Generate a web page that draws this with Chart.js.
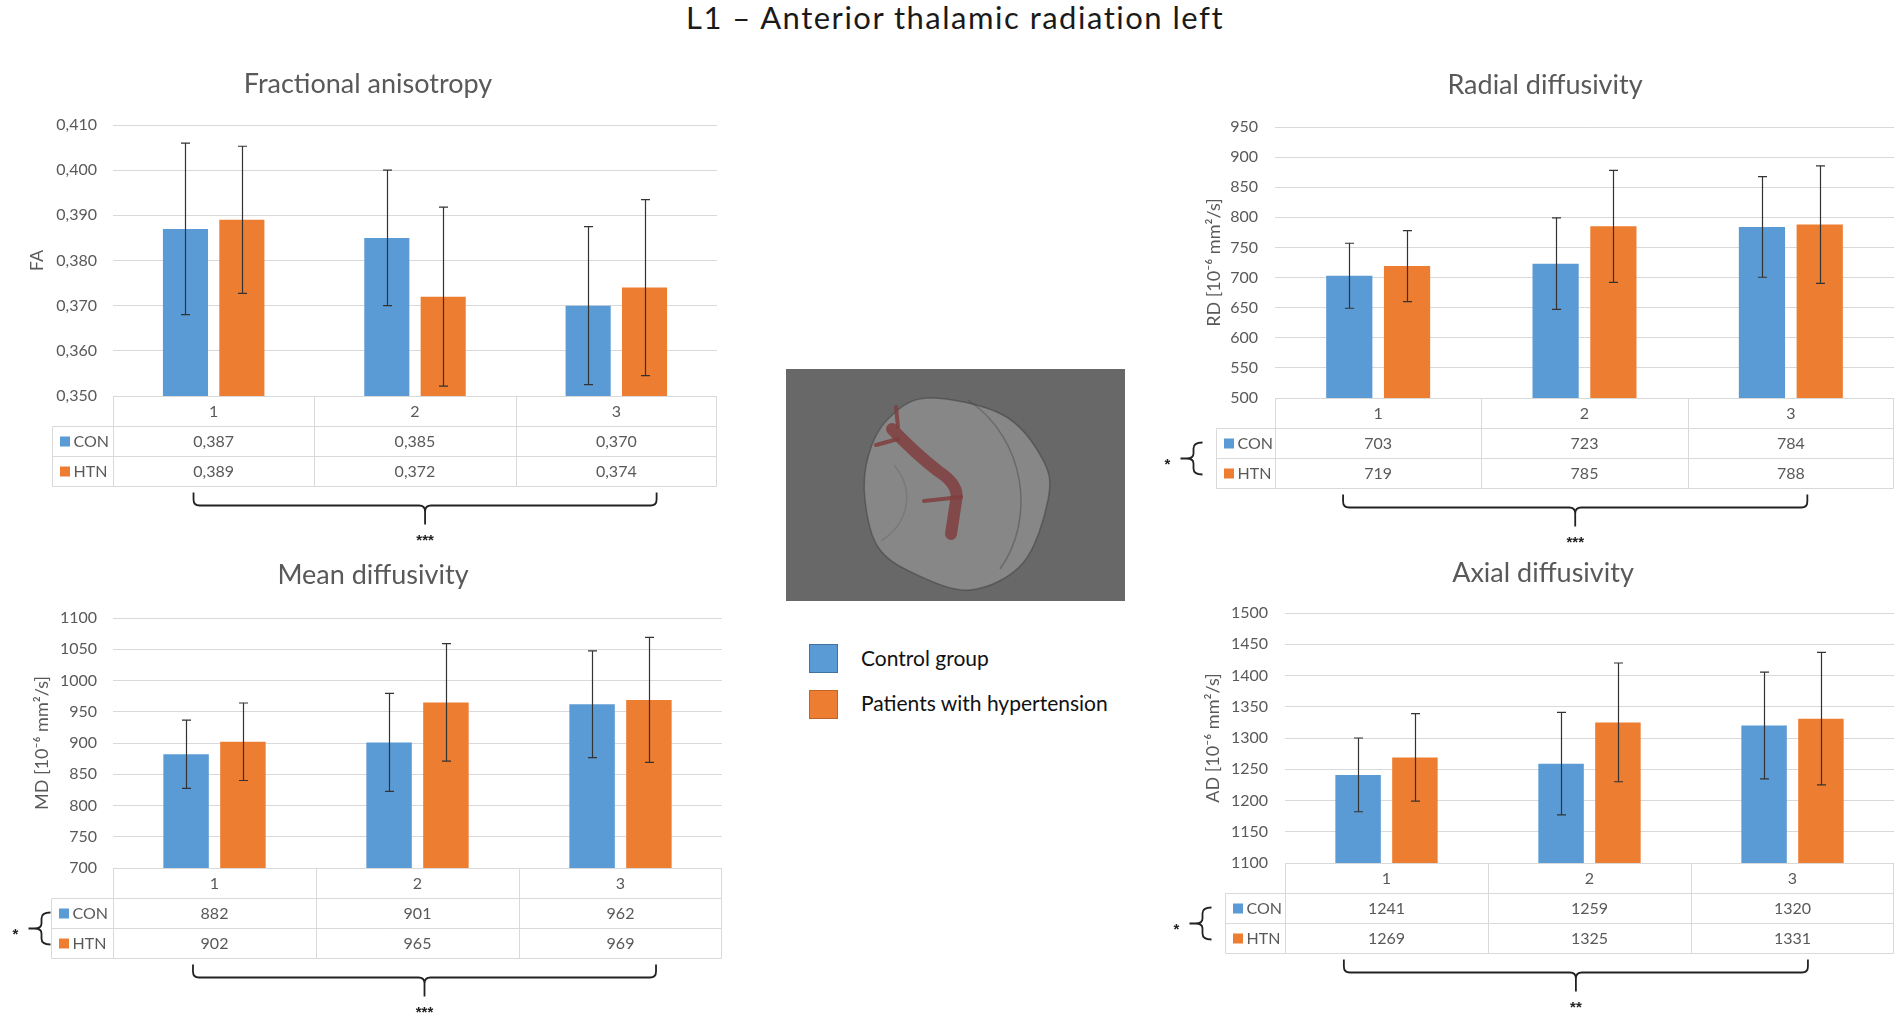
<!DOCTYPE html>
<html>
<head>
<meta charset="utf-8">
<title>L1 – Anterior thalamic radiation left</title>
<script src="https://cdn.jsdelivr.net/npm/chart.js@4.4.1/dist/chart.umd.min.js"></script>
<style>
  html, body { margin: 0; padding: 0; background: #fff; }
  #page { position: relative; width: 1900px; height: 1020px; overflow: hidden; font-family: Lato, sans-serif; }
  canvas { position: absolute; }
  #mainTitle { position: absolute; left: 0; top: 2px; width: 1910px; text-align: center; font-size: 31px; line-height: 31px; letter-spacing: 1.5px; color: #1a1a1a; }
  .key { position: absolute; left: 809px; width: 29px; height: 29px; box-sizing: border-box; }
  .keyText { position: absolute; left: 861px; font-size: 21px; line-height: 24px; color: #111; white-space: nowrap; }
</style>
</head>
<body>
<div id="page">
  <div id="mainTitle">L1 – Anterior thalamic radiation left</div>
  <canvas id="faChart" width="740" height="492" style="left:0;top:68px"></canvas>
  <canvas id="mdChart" width="745" height="461" style="left:0;top:559px"></canvas>
  <canvas id="rdChart" width="750" height="491" style="left:1150px;top:69px"></canvas>
  <canvas id="adChart" width="750" height="463" style="left:1150px;top:557px"></canvas>
  <canvas id="brain" width="339" height="232" style="left:786px;top:369px"></canvas>
  <div class="key" style="top:644px;background:#5B9BD5;border:1px solid #41719C"></div>
  <div class="keyText" style="top:646px">Control group</div>
  <div class="key" style="top:690px;background:#ED7D31;border:1px solid #C0642A"></div>
  <div class="keyText" style="top:691px">Patients with hypertension</div>
</div>
<script>
// Groups (table columns) and series
const groups = ['1', '2', '3'];
const seriesNames = ['CON', 'HTN'];
const seriesColors = ['#5B9BD5', '#ED7D31'];

// Fractional anisotropy
const faCon = [0.387, 0.385, 0.370];
const faHtn = [0.389, 0.372, 0.374];
const faConSd = [0.019, 0.015, 0.0175];
const faHtnSd = [0.0163, 0.0198, 0.0195];

// Mean diffusivity [10^-6 mm2/s]
const mdCon = [882, 901, 962];
const mdHtn = [902, 965, 969];
const mdConSd = [54.5, 78.5, 85.5];
const mdHtnSd = [62, 94, 100];

// Radial diffusivity
const rdCon = [703, 723, 784];
const rdHtn = [719, 785, 788];
const rdConSd = [54, 76, 83.5];
const rdHtnSd = [59, 93, 97.5];

// Axial diffusivity
const adCon = [1241, 1259, 1320];
const adHtn = [1269, 1325, 1331];
const adConSd = [59, 82, 85.5];
const adHtnSd = [70, 95, 106];

Chart.defaults.font.family = 'Lato, sans-serif';
Chart.defaults.color = '#595959';

const txt = '#595959';
const fmtFA = v => v.toFixed(3).replace('.', ',');
const fmtInt = v => String(Math.round(v));

// Error bars: mean +/- sd, through the y scale
const errorBars = {
  id: 'errorBars',
  afterDatasetsDraw(chart) {
    const { ctx, scales: { y } } = chart;
    ctx.save();
    ctx.strokeStyle = '#333';
    ctx.lineWidth = 1.2;
    chart.data.datasets.forEach((ds, i) => {
      chart.getDatasetMeta(i).data.forEach((bar, j) => {
        const top = y.getPixelForValue(ds.data[j] + ds.sd[j]);
        const bot = y.getPixelForValue(ds.data[j] - ds.sd[j]);
        const x = Math.round(bar.x) + 0.5;
        ctx.beginPath();
        ctx.moveTo(x, top); ctx.lineTo(x, bot);
        ctx.moveTo(x - 4.5, top); ctx.lineTo(x + 4.5, top);
        ctx.moveTo(x - 4.5, bot); ctx.lineTo(x + 4.5, bot);
        ctx.stroke();
      });
    });
    ctx.restore();
  }
};

// Excel-like data table under the plot, plus significance brackets
function dataTable(p) {
  return {
    id: 'dataTable',
    afterDraw(chart) {
      const { ctx, chartArea: a, scales: { x } } = chart;
      const rowH = 30;
      const keyL = Math.round(a.left - p.keyW) + 0.5;
      const L = Math.round(a.left) + 0.5, R = Math.round(a.right) - 0.5;
      const t0 = Math.round(a.bottom) + 0.5, t1 = t0 + rowH, t2 = t1 + rowH, t3 = t2 + rowH;
      const colW = x.getPixelForValue(1) - x.getPixelForValue(0);

      ctx.save();
      ctx.strokeStyle = '#d9d9d9';
      ctx.lineWidth = 1;
      ctx.beginPath();
      ctx.moveTo(L, t0); ctx.lineTo(R, t0);
      [t1, t2, t3].forEach(t => { ctx.moveTo(keyL, t); ctx.lineTo(R, t); });
      ctx.moveTo(keyL, t1); ctx.lineTo(keyL, t3);
      groups.forEach((g, i) => {
        const xl = Math.round(x.getPixelForValue(i) - colW / 2) + 0.5;
        ctx.moveTo(xl, t0); ctx.lineTo(xl, t3);
      });
      ctx.moveTo(R, t0); ctx.lineTo(R, t3);
      ctx.stroke();

      ctx.fillStyle = txt;
      ctx.font = '16px Lato';
      ctx.textAlign = 'center';
      ctx.textBaseline = 'middle';
      groups.forEach((g, i) => ctx.fillText(g, x.getPixelForValue(i), t0 + rowH / 2));
      chart.data.datasets.forEach((ds, k) => {
        const yc = t1 + rowH * k + rowH / 2;
        ds.data.forEach((v, i) => ctx.fillText(p.fmt(v), x.getPixelForValue(i), yc));
        ctx.fillStyle = seriesColors[k];
        ctx.fillRect(keyL + 7.5, yc - 5, 10, 10);
        ctx.fillStyle = txt;
        ctx.textAlign = 'left';
        ctx.fillText(seriesNames[k], keyL + 21, yc);
        ctx.textAlign = 'center';
      });

      // bracket across the three groups
      ctx.strokeStyle = '#222';
      ctx.lineWidth = 1.8;
      const bx1 = x.getPixelForValue(0) + p.bracket[0] * colW;
      const bx2 = x.getPixelForValue(groups.length - 1) + p.bracket[1] * colW;
      const bm = (bx1 + bx2) / 2;
      const yTop = t3 + 6, yH = t3 + 19, yTip = t3 + 38, r = 6;
      ctx.beginPath();
      ctx.moveTo(bx1, yTop); ctx.lineTo(bx1, yH - r);
      ctx.quadraticCurveTo(bx1, yH, bx1 + r, yH);
      ctx.lineTo(bm - r, yH);
      ctx.quadraticCurveTo(bm, yH, bm, yH + r);
      ctx.lineTo(bm, yTip);
      ctx.moveTo(bx2, yTop); ctx.lineTo(bx2, yH - r);
      ctx.quadraticCurveTo(bx2, yH, bx2 - r, yH);
      ctx.lineTo(bm + r, yH);
      ctx.quadraticCurveTo(bm, yH, bm, yH + r);
      ctx.stroke();
      ctx.fillStyle = '#222';
      ctx.font = 'bold 15px "Liberation Sans"';
      ctx.textBaseline = 'alphabetic';
      ctx.fillText(p.stars, bm, t3 + 58);

      // side brace between CON and HTN rows
      if (p.side) {
        const xr = keyL - p.braceGap, xs = xr - 9, xt = xr - 16, yc = t2, h = 16;
        ctx.beginPath();
        ctx.moveTo(xr, yc - h);
        ctx.quadraticCurveTo(xs, yc - h, xs, yc - h + 6);
        ctx.lineTo(xs, yc - 5);
        ctx.quadraticCurveTo(xs, yc, xt, yc);
        ctx.quadraticCurveTo(xs, yc, xs, yc + 5);
        ctx.lineTo(xs, yc + h - 6);
        ctx.quadraticCurveTo(xs, yc + h, xr, yc + h);
        ctx.moveTo(xt, yc); ctx.lineTo(xt - 6, yc);
        ctx.stroke();
        ctx.fillText(p.side, xt - 19, yc + 10);
      }
      ctx.restore();
    }
  };
}

function panel(id, p) {
  return new Chart(document.getElementById(id), {
    type: 'bar',
    data: {
      labels: groups,
      datasets: [
        { label: seriesNames[0], data: p.con, sd: p.conSd, backgroundColor: seriesColors[0], categoryPercentage: 0.56, barPercentage: 0.8 },
        { label: seriesNames[1], data: p.htn, sd: p.htnSd, backgroundColor: seriesColors[1], categoryPercentage: 0.56, barPercentage: 0.8 }
      ]
    },
    options: {
      responsive: false,
      animation: false,
      layout: { padding: p.pad },
      plugins: {
        legend: { display: false },
        tooltip: { enabled: false },
        title: {
          display: true,
          text: p.title,
          color: txt,
          font: { size: 27, weight: 'normal' },
          padding: { top: 0, bottom: p.titleGap }
        }
      },
      scales: {
        x: { display: false },
        y: {
          min: p.min,
          max: p.max,
          ticks: { stepSize: p.step, padding: p.tickPad, color: txt, font: { size: 16 }, callback: v => p.fmt(v) },
          grid: { color: '#d9d9d9', drawTicks: false },
          border: { display: false },
          title: { display: true, text: p.yTitle, color: txt, font: { size: 18 }, padding: { top: p.yTitlePad, bottom: 0 } },
          afterFit: s => { s.width = p.axisW; }
        }
      }
    },
    plugins: [errorBars, dataTable(p)]
  });
}

panel('faChart', {
  title: 'Fractional anisotropy', yTitle: 'FA',
  con: faCon, htn: faHtn, conSd: faConSd, htnSd: faHtnSd,
  min: 0.35, max: 0.41, step: 0.01, fmt: fmtFA,
  pad: { left: 19, right: 23, top: 0, bottom: 164 }, axisW: 94, titleGap: 24.6, yTitlePad: 7.2, tickPad: 16,
  keyW: 61, bracket: [-0.10, 0.20], stars: '***', side: null
});

panel('mdChart', {
  title: 'Mean diffusivity', yTitle: 'MD [10⁻⁶ mm²/s]',
  con: mdCon, htn: mdHtn, conSd: mdConSd, htnSd: mdHtnSd,
  min: 700, max: 1100, step: 50, fmt: fmtInt,
  pad: { left: 24, right: 23, top: 0, bottom: 152 }, axisW: 89, titleGap: 26.6, yTitlePad: 7.2, tickPad: 16,
  keyW: 62, bracket: [-0.106, 0.175], stars: '***', side: '*', braceGap: 1
});

panel('rdChart', {
  title: 'Radial diffusivity', yTitle: 'RD [10⁻⁶ mm²/s]',
  con: rdCon, htn: rdHtn, conSd: rdConSd, htnSd: rdHtnSd,
  min: 500, max: 950, step: 50, fmt: fmtInt,
  pad: { left: 46, right: 6, top: 0, bottom: 162 }, axisW: 79, titleGap: 25.6, yTitlePad: 7.2, tickPad: 17,
  keyW: 59, bracket: [-0.17, 0.08], stars: '***', side: '*', braceGap: 14
});

panel('adChart', {
  title: 'Axial diffusivity', yTitle: 'AD [10⁻⁶ mm²/s]',
  con: adCon, htn: adHtn, conSd: adConSd, htnSd: adHtnSd,
  min: 1100, max: 1500, step: 50, fmt: fmtInt,
  pad: { left: 42, right: 6, top: 0, bottom: 157 }, axisW: 93, titleGap: 23.6, yTitlePad: 10.2, tickPad: 17,
  keyW: 60, bracket: [-0.21, 0.076], stars: '**', side: '*', braceGap: 14
});

// Brain rendering placeholder (tract image in the middle)
const b = document.getElementById('brain').getContext('2d');
b.fillStyle = '#686868';
b.fillRect(0, 0, 339, 232);

function smoothClosed(ctx, pts) {
  const n = pts.length;
  ctx.beginPath();
  ctx.moveTo(pts[0][0], pts[0][1]);
  for (let i = 0; i < n; i++) {
    const p0 = pts[(i - 1 + n) % n], p1 = pts[i], p2 = pts[(i + 1) % n], p3 = pts[(i + 2) % n];
    ctx.bezierCurveTo(
      p1[0] + (p2[0] - p0[0]) / 6, p1[1] + (p2[1] - p0[1]) / 6,
      p2[0] - (p3[0] - p1[0]) / 6, p2[1] - (p3[1] - p1[1]) / 6,
      p2[0], p2[1]);
  }
  ctx.closePath();
}

const outline = [[141, 29], [217, 46], [257, 91], [262, 131], [237, 194], [184, 221], [127, 204], [92, 178], [79, 131], [82, 88], [101, 51]];
smoothClosed(b, outline);
b.fillStyle = 'rgba(165,165,165,0.5)';
b.fill();
b.strokeStyle = 'rgba(60,60,60,0.5)';
b.lineWidth = 1.5;
b.stroke();
b.beginPath();
b.moveTo(182, 31);
b.bezierCurveTo(240, 70, 250, 150, 214, 200);
b.strokeStyle = 'rgba(70,70,70,0.45)';
b.stroke();
b.beginPath();
b.moveTo(95, 172);
b.bezierCurveTo(122, 155, 130, 122, 108, 96);
b.strokeStyle = 'rgba(90,90,90,0.3)';
b.stroke();

b.strokeStyle = 'rgba(128,62,62,0.85)';
b.lineCap = 'round';
b.lineJoin = 'round';
b.lineWidth = 12;
b.beginPath();
b.moveTo(106, 60);
b.quadraticCurveTo(130, 85, 152, 102);
b.quadraticCurveTo(174, 116, 170, 132);
b.lineTo(165, 165);
b.stroke();
b.lineWidth = 4;
b.beginPath();
b.moveTo(90, 76); b.lineTo(112, 70);
b.moveTo(110, 38); b.lineTo(112, 58);
b.moveTo(138, 132); b.lineTo(175, 128);
b.stroke();
</script>
</body>
</html>
